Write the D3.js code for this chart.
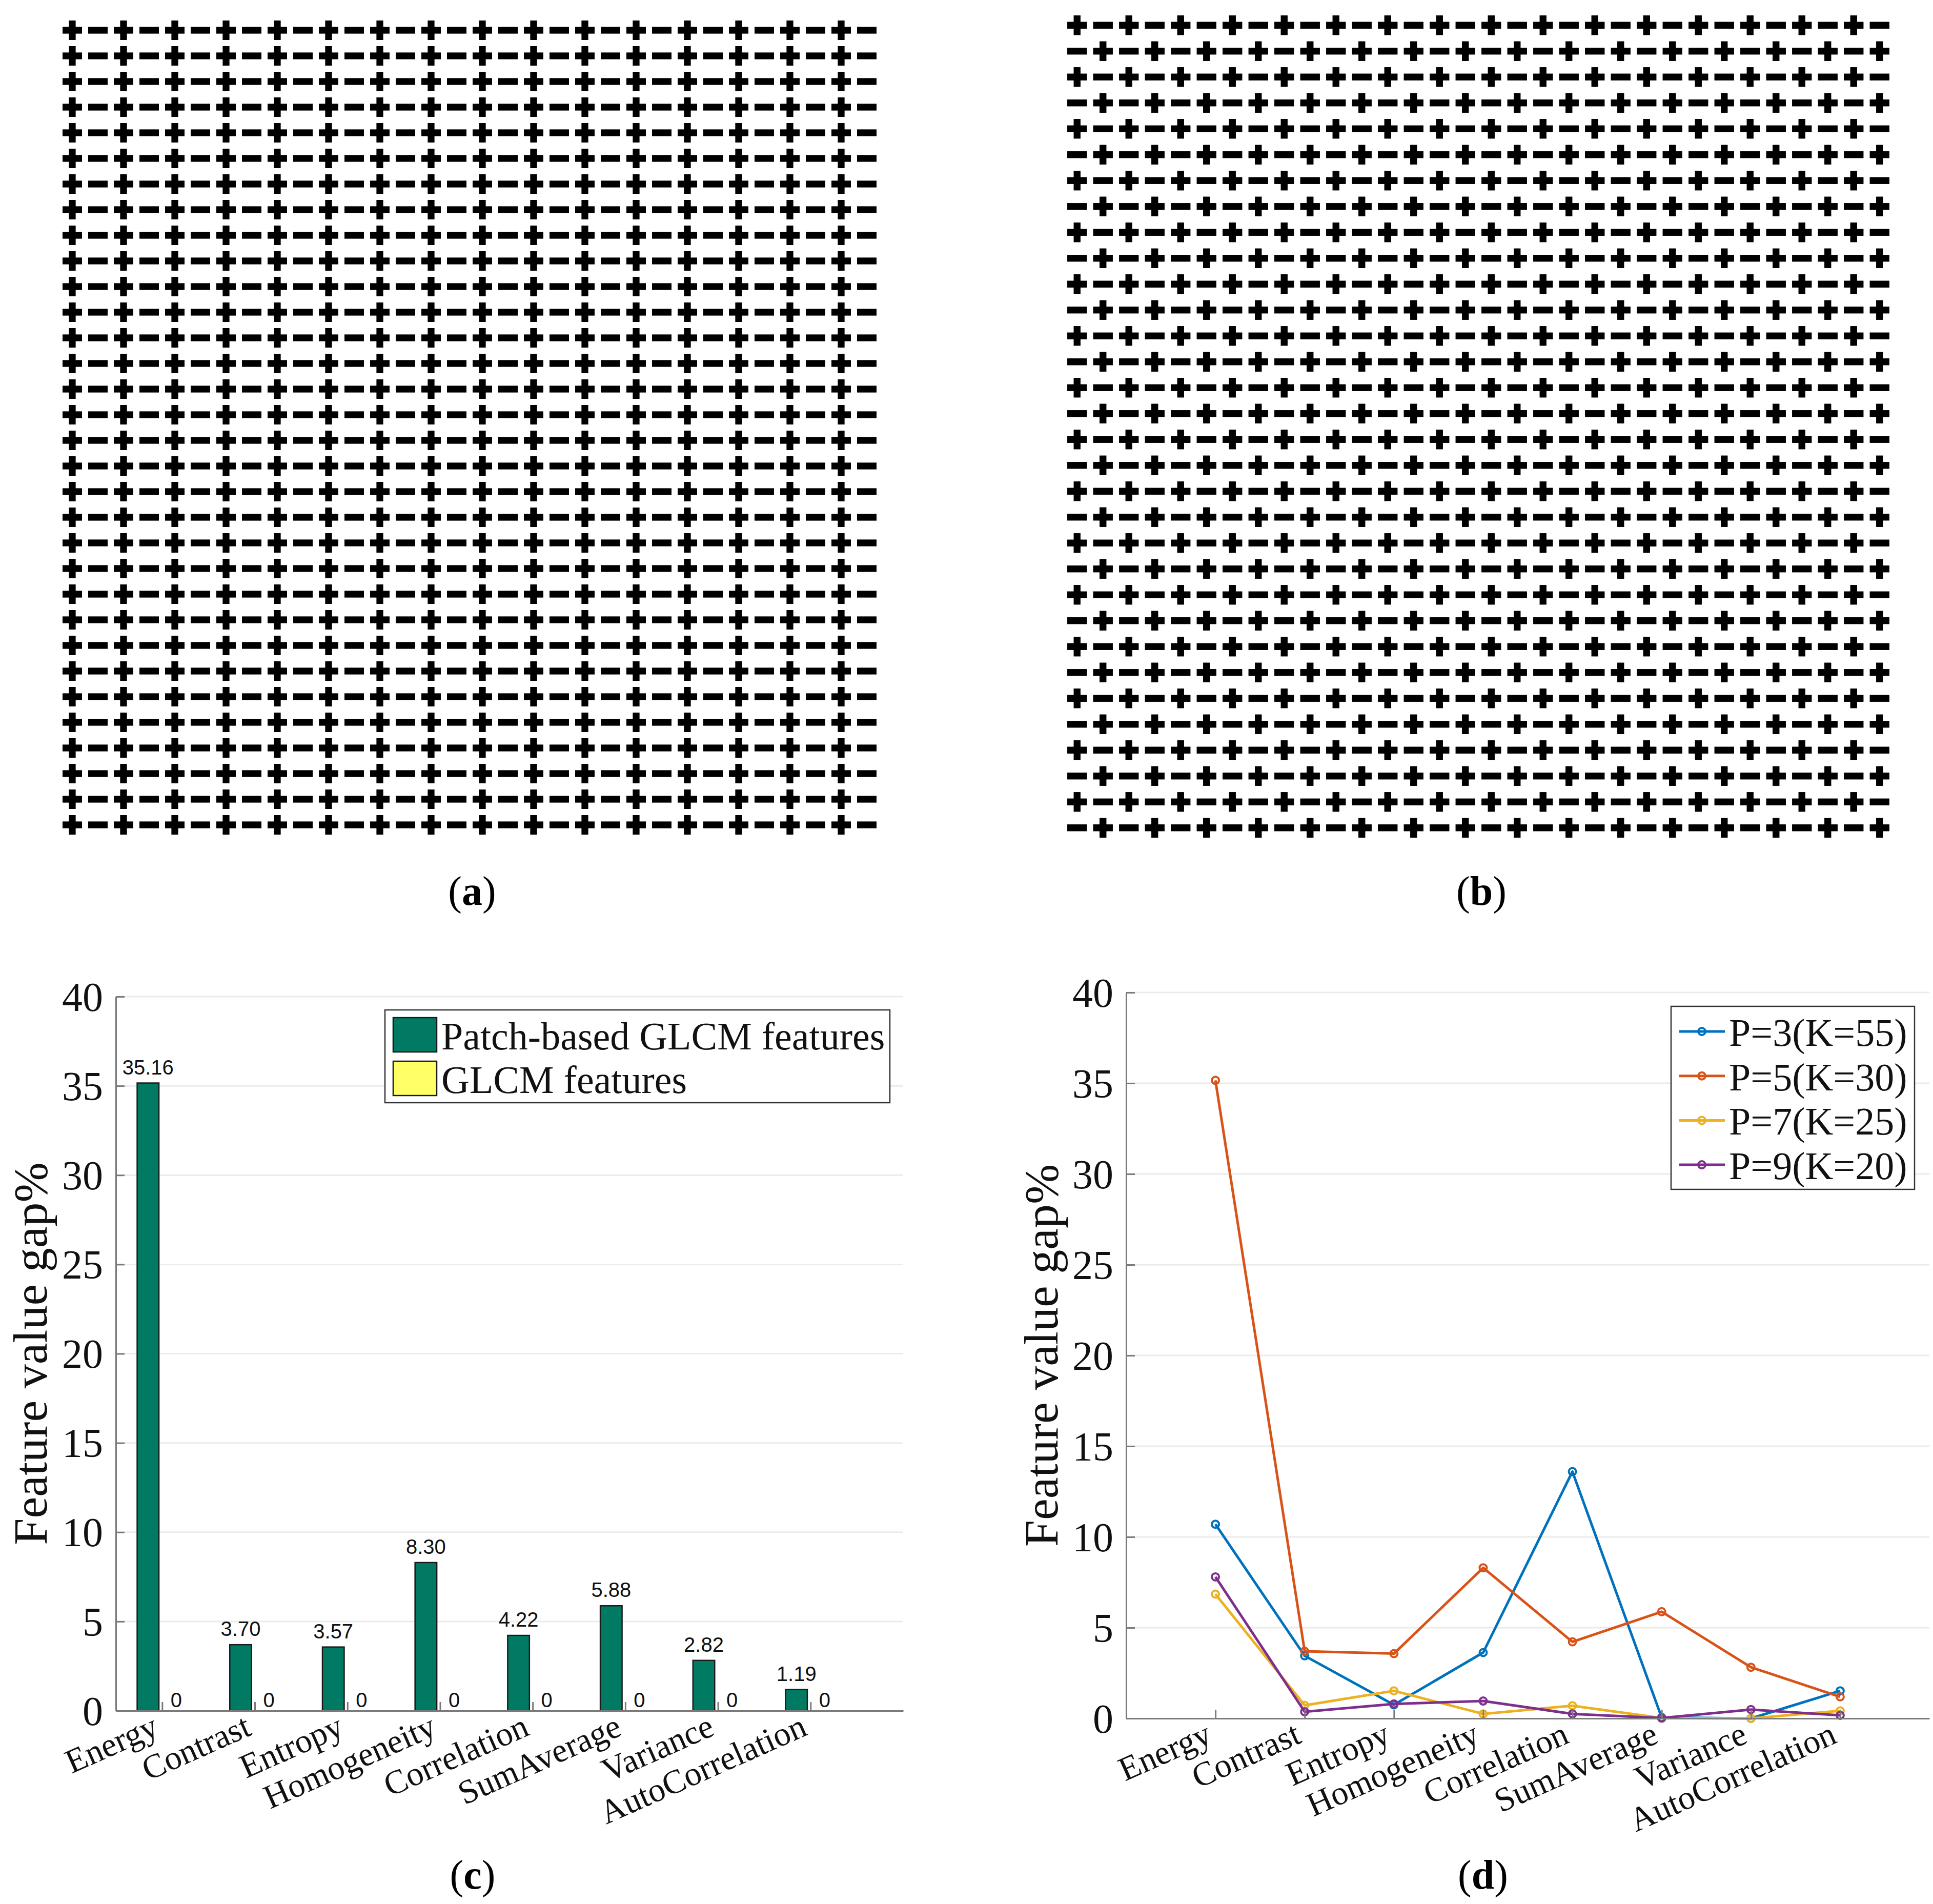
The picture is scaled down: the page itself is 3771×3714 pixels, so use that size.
<!DOCTYPE html>
<html>
<head>
<meta charset="utf-8">
<script src="https://cdn.jsdelivr.net/npm/d3@7/dist/d3.min.js"></script>
<style>
  body { margin: 0; background: #fff; }
</style>
</head>
<body>
<div id="figure"></div>
<script>
// ---- data ----
var features = ["Energy", "Contrast", "Entropy", "Homogeneity", "Correlation", "SumAverage", "Variance", "AutoCorrelation"];
var featureIndex = [1, 2, 3, 4, 5, 6, 7, 8];

// panel (c) bars
var barNames = ["Patch-based GLCM features", "GLCM features"];
var patchGlcm = [35.16, 3.70, 3.57, 8.30, 4.22, 5.88, 2.82, 1.19];
var plainGlcm = [0, 0, 0, 0, 0, 0, 0, 0];

// panel (d) lines
var lineNames = ["P=3(K=55)", "P=5(K=30)", "P=7(K=25)", "P=9(K=20)"];
var gapP3 = [10.7, 3.45, 0.75, 3.63, 13.6, 0.05, 0.0, 1.52];
var gapP5 = [35.16, 3.70, 3.57, 8.30, 4.22, 5.88, 2.82, 1.19];
var gapP7 = [6.85, 0.72, 1.52, 0.25, 0.70, 0.02, 0.0, 0.42];
var gapP9 = [7.8, 0.37, 0.80, 0.96, 0.25, 0.02, 0.49, 0.17];

var yTicks = [0, 5, 10, 15, 20, 25, 30, 35, 40];

// panels (a) and (b): +/- texture images
var patternARows = 32;
var patternARow = "+-+-+-+-+-+-+-+-+-+-+-+-+-+-+-+-";
var patternBRows = 32;
var patternBRowPair = ["+-+-+-+-+-+-+-+-+-+-+-+-+-+-+-+-", "-+-+-+-+-+-+-+-+-+-+-+-+-+-+-+-+"];

var captionLetters = ["a", "b", "c", "d"];

// ---- styles ----
var serif = "'Liberation Serif', 'Times New Roman', serif";
var sans = "'Liberation Sans', Arial, sans-serif";
var axisGrey = "#7a7a7a";
var gridGrey = "#ebebeb";
var barGreen = "#007a62";
var barYellow = "#ffff66";
var lineColors = ["#0072bd", "#d95319", "#edb120", "#7e2f8e"];

var svg = d3.select("#figure")
  .append("svg")
    .attr("width", 3771)
    .attr("height", 3714)
    .style("display", "block");

// ---- (a) and (b) patterns ----
function drawPattern(rows, x0, y0, cell) {
  var nCols = rows[0].length;
  var x = d3.scaleBand().domain(d3.range(nCols)).range([x0, x0 + cell * nCols]);
  var y = d3.scaleBand().domain(d3.range(rows.length)).range([y0, y0 + cell * rows.length]);
  var arm = cell * 0.76, thick = cell * 0.265;

  var cells = [];
  rows.forEach(function(row, r) {
    row.split("").forEach(function(s, c) { cells.push({r: r, c: c, s: s}); });
  });

  var g = svg.append("g");
  // horizontal bar (both + and -)
  g.selectAll("rect.h")
    .data(cells)
    .enter()
    .append("rect")
      .attr("class", "h")
      .attr("x", function(d) { return x(d.c) + (cell - arm) / 2; })
      .attr("y", function(d) { return y(d.r) + (cell - thick) / 2; })
      .attr("width", arm)
      .attr("height", thick)
      .attr("fill", "#000");
  // vertical bar (only +)
  g.selectAll("rect.v")
    .data(cells.filter(function(d) { return d.s === "+"; }))
    .enter()
    .append("rect")
      .attr("class", "v")
      .attr("x", function(d) { return x(d.c) + (cell - thick) / 2; })
      .attr("y", function(d) { return y(d.r) + (cell - arm) / 2; })
      .attr("width", thick)
      .attr("height", arm)
      .attr("fill", "#000");
}

var patternA = d3.range(patternARows).map(function() { return patternARow; });
var patternB = d3.range(patternBRows).map(function(i) { return patternBRowPair[i % 2]; });
drawPattern(patternA, 116, 34, 50);
drawPattern(patternB, 2076, 24, 50.5);

// ---- shared axis helpers ----
function drawFrame(x, y, xLeft, xRight) {
  // grid
  svg.append("g")
    .selectAll("line")
    .data(yTicks.slice(1))
    .enter()
    .append("line")
      .attr("x1", xLeft)
      .attr("x2", xRight)
      .attr("y1", function(d) { return y(d); })
      .attr("y2", function(d) { return y(d); })
      .attr("stroke", gridGrey)
      .attr("stroke-width", 3);
}

function drawAxes(x, y, xLeft, yLabelX) {
  var y0 = y(0);

  // Y axis, ticks inside
  var ya = svg.append("g")
    .attr("transform", "translate(" + xLeft + ",0)")
    .call(d3.axisLeft(y).tickValues(yTicks).tickSize(-17).tickSizeOuter(0).tickPadding(25));
  ya.selectAll("text")
    .style("font-family", serif)
    .style("font-size", "80px")
    .style("fill", "#111")
    .attr("dy", "0.34em");

  // X axis, ticks inside, rotated labels
  var xa = svg.append("g")
    .attr("transform", "translate(0," + y0 + ")")
    .call(d3.axisBottom(x).tickValues(featureIndex).tickSize(-17).tickSizeOuter(0)
      .tickFormat(function(i) { return features[i - 1]; }));
  xa.selectAll("text")
    .style("font-family", serif)
    .style("font-size", "66px")
    .style("fill", "#111")
    .style("text-anchor", "end")
    .attr("x", -4)
    .attr("y", 46)
    .attr("dy", 0)
    .attr("transform", "rotate(-24,-4,46)");

  svg.selectAll(".domain, .tick line")
    .attr("stroke", axisGrey)
    .attr("stroke-width", 3);

  // y label
  svg.append("text")
    .attr("transform", "translate(" + yLabelX + "," + ((y(0) + y(40)) / 2) + ")rotate(-90)")
    .attr("text-anchor", "middle")
    .style("font-family", serif)
    .style("font-size", "94px")
    .style("fill", "#111")
    .text("Feature value gap%");
}

// ---- (c) bar chart ----
var xc = d3.scaleLinear().domain([0.5, 9]).range([226, 1762]);
var yc = d3.scaleLinear().domain([0, 40]).range([3337, 1944]);
var barOffset = 0.1525, barWidth = 0.235;

drawFrame(xc, yc, 226, 1762);

var barData = [
  {values: patchGlcm, offset: -barOffset, color: barGreen},
  {values: plainGlcm, offset: barOffset, color: barYellow}
];

barData.forEach(function(s) {
  svg.append("g")
    .selectAll("rect")
    .data(s.values)
    .enter()
    .append("rect")
      .attr("x", function(d, i) { return xc(featureIndex[i] + s.offset - barWidth / 2); })
      .attr("width", xc(barWidth) - xc(0))
      .attr("y", function(d) { return yc(d); })
      .attr("height", function(d) { return yc(0) - yc(d); })
      .attr("fill", s.color)
      .attr("stroke", "#1a1a1a")
      .attr("stroke-width", 2.5);

  // value labels
  svg.append("g")
    .selectAll("text")
    .data(s.values)
    .enter()
    .append("text")
      .attr("x", function(d, i) { return xc(featureIndex[i] + s.offset); })
      .attr("y", function(d) { return yc(d) - (d > 0 ? 17 : 7); })
      .attr("text-anchor", "middle")
      .style("font-family", sans)
      .style("font-size", "40px")
      .style("fill", "#111")
      .text(function(d) { return d === 0 ? "0" : d.toFixed(2); });
});

drawAxes(xc, yc, 226, 91);

// legend (c)
var legC = svg.append("g");
legC.append("rect")
  .attr("x", 751).attr("y", 1970).attr("width", 985).attr("height", 181)
  .attr("fill", "#fff").attr("stroke", "#333").attr("stroke-width", 2.5);
legC.selectAll("rect.sw")
  .data(barNames)
  .enter()
  .append("rect")
    .attr("class", "sw")
    .attr("x", 767)
    .attr("y", function(d, i) { return 1985 + i * 85; })
    .attr("width", 85)
    .attr("height", 67)
    .attr("fill", function(d, i) { return barData[i].color; })
    .attr("stroke", "#1a1a1a")
    .attr("stroke-width", 2.5);
legC.selectAll("text")
  .data(barNames)
  .enter()
  .append("text")
    .attr("x", 861)
    .attr("y", function(d, i) { return 2047 + i * 85; })
    .style("font-family", serif)
    .style("font-size", "76px")
    .style("fill", "#111")
    .text(function(d) { return d; });

// ---- (d) line chart ----
var xd = d3.scaleLinear().domain([0, 9]).range([2197, 3764]);
var yd = d3.scaleLinear().domain([0, 40]).range([3352, 1936]);

drawFrame(xd, yd, 2197, 3764);

var lineData = [gapP3, gapP5, gapP7, gapP9];
var line = d3.line()
  .x(function(d, i) { return xd(featureIndex[i]); })
  .y(function(d) { return yd(d); });

lineData.forEach(function(vals, k) {
  svg.append("path")
    .datum(vals)
    .attr("d", line)
    .attr("fill", "none")
    .attr("stroke", lineColors[k])
    .attr("stroke-width", 5)
    .attr("stroke-linejoin", "round");
  svg.append("g")
    .selectAll("circle")
    .data(vals)
    .enter()
    .append("circle")
      .attr("cx", function(d, i) { return xd(featureIndex[i]); })
      .attr("cy", function(d) { return yd(d); })
      .attr("r", 7)
      .attr("fill", "none")
      .attr("stroke", lineColors[k])
      .attr("stroke-width", 4);
});

drawAxes(xd, yd, 2197, 2063);

// legend (d)
var legD = svg.append("g");
legD.append("rect")
  .attr("x", 3260).attr("y", 1963).attr("width", 475).attr("height", 357)
  .attr("fill", "#fff").attr("stroke", "#333").attr("stroke-width", 2.5);
var legRows = legD.selectAll("g")
  .data(lineNames)
  .enter()
  .append("g")
    .attr("transform", function(d, i) { return "translate(0," + (2012 + i * 86.7) + ")"; });
legRows.append("line")
  .attr("x1", 3276).attr("x2", 3365)
  .attr("stroke", function(d, i) { return lineColors[i]; })
  .attr("stroke-width", 5);
legRows.append("circle")
  .attr("cx", 3320).attr("r", 7)
  .attr("fill", "none")
  .attr("stroke", function(d, i) { return lineColors[i]; })
  .attr("stroke-width", 4);
legRows.append("text")
  .attr("x", 3373)
  .attr("y", 28)
  .style("font-family", serif)
  .style("font-size", "76px")
  .style("fill", "#111")
  .text(function(d) { return d; });

// ---- captions ----
var captionPos = [[921, 1765], [2890, 1765], [922, 3684], [2893, 3684]];
captionLetters.forEach(function(l, i) {
  var t = svg.append("text")
    .attr("x", captionPos[i][0])
    .attr("y", captionPos[i][1])
    .attr("text-anchor", "middle")
    .style("font-family", serif)
    .style("font-size", "80px")
    .style("fill", "#000");
  t.append("tspan").text("(");
  t.append("tspan").style("font-weight", "bold").text(l);
  t.append("tspan").text(")");
});
</script>
</body>
</html>
